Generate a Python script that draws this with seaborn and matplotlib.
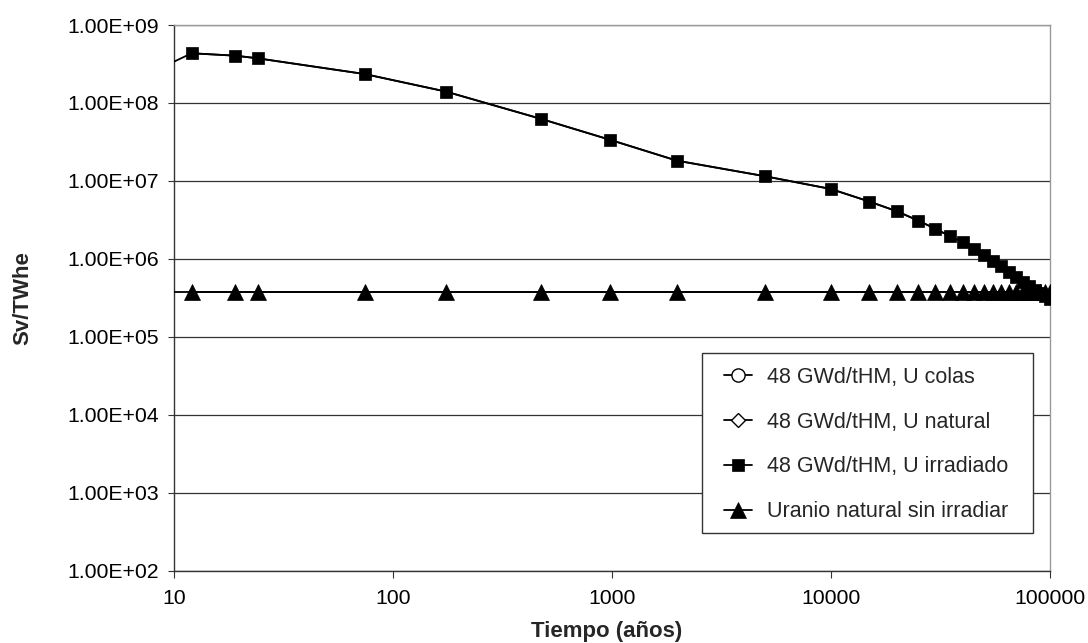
import matplotlib
matplotlib.use("Agg")
import matplotlib.pyplot as plt
import seaborn as sns
import numpy as np
import pandas as pd
from matplotlib.ticker import FixedLocator, FuncFormatter, NullLocator
from matplotlib.patches import Rectangle

# ---------------- data ----------------
tiempo = [12, 19, 24, 74, 174, 474, 974, 1974, 4974, 9974,
          14974, 19974, 24974, 29974, 34974, 39974, 44974, 49974, 54974,
          59974, 64974, 69974, 74974, 79974, 84974, 89974, 94974, 99974]
u_irradiado = [4.34e8, 4.04e8, 3.74e8, 2.35e8, 1.40e8, 6.24e7, 3.38e7, 1.82e7,
               1.15e7, 7.88e6, 5.43e6, 4.08e6, 3.10e6, 2.43e6, 1.95e6, 1.64e6,
               1.34e6, 1.12e6, 9.5e5, 8.05e5, 6.87e5, 5.9e5, 5.1e5, 4.5e5,
               4.0e5, 3.6e5, 3.3e5, 3.1e5]
u_natural_sin_irradiar = [3.74e5] * len(tiempo)
# line values at the left edge of the axis (t = 10), line only, no marker
tiempo_inicio = 10
u_irradiado_inicio = 3.4e8
u_natural_inicio = 3.74e5

series_labels = ["48 GWd/tHM, U colas", "48 GWd/tHM, U natural",
                 "48 GWd/tHM, U irradiado", "Uranio natural sin irradiar"]
x_ticks = [10, 100, 1000, 10000, 100000]
y_ticks = [1e2, 1e3, 1e4, 1e5, 1e6, 1e7, 1e8, 1e9]
x_label = "Tiempo (años)"
y_label = "Sv/TWhe"

# ---------------- style ----------------
sns.set_theme(style="white")
plt.rcParams["font.family"] = ["Liberation Sans", "DejaVu Sans"]

W, H = 1088, 643
fig = plt.figure(figsize=(W / 100, H / 100), dpi=100)
left, right, top, bottom = 174.3, 1050, 25, 570.7
ax = fig.add_axes([left / W, 1 - bottom / H, (right - left) / W, (bottom - top) / H])

df = pd.DataFrame({"t": tiempo, "irr": u_irradiado, "nat": u_natural_sin_irradiar})
df_line = pd.DataFrame({"t": [tiempo_inicio] + tiempo,
                        "irr": [u_irradiado_inicio] + u_irradiado,
                        "nat": [u_natural_inicio] + u_natural_sin_irradiar})

# empty series (legend only)
ax.plot([], [], color="black", lw=1.3, marker="o", ms=9.5, mfc="white",
        mec="black", mew=1.0, label=series_labels[0])
ax.plot([], [], color="black", lw=1.3, marker="D", ms=7.5, mfc="white",
        mec="black", mew=1.0, label=series_labels[1])

# connecting lines
sns.lineplot(data=df_line, x="t", y="nat", ax=ax, color="black", lw=1.3,
             estimator=None, legend=False, zorder=3)
sns.lineplot(data=df_line, x="t", y="irr", ax=ax, color="black", lw=1.3,
             estimator=None, legend=False, zorder=4)
# markers
sns.lineplot(data=df, x="t", y="nat", ax=ax, color="black", lw=1.3,
             marker="^", markersize=11, markeredgewidth=0.5,
             markeredgecolor="black", markerfacecolor="black",
             estimator=None, label=series_labels[3], zorder=3)
sns.lineplot(data=df, x="t", y="irr", ax=ax, color="black", lw=1.3,
             marker="s", markersize=8.5, markeredgewidth=0.5,
             markeredgecolor="black", markerfacecolor="black",
             estimator=None, label=series_labels[2], zorder=4)

ax.set_xscale("log")
ax.set_yscale("log")
ax.set_xlim(10, 100000)
ax.set_ylim(1e2, 1e9)
ax.xaxis.set_major_locator(FixedLocator(x_ticks))
ax.yaxis.set_major_locator(FixedLocator(y_ticks))
ax.xaxis.set_minor_locator(NullLocator())
ax.yaxis.set_minor_locator(NullLocator())
ax.xaxis.set_major_formatter(FuncFormatter(lambda v, p: f"{int(round(v))}"))
ax.yaxis.set_major_formatter(FuncFormatter(lambda v, p: f"{v:.2E}"))

ax.grid(True, axis="y", color="#333333", lw=0.9)
ax.grid(False, axis="x")
ax.set_axisbelow(True)

for s in ["left", "bottom"]:
    ax.spines[s].set_color("#333333")
    ax.spines[s].set_linewidth(1.0)
for s in ["top", "right"]:
    ax.spines[s].set_color("#999999")
    ax.spines[s].set_linewidth(1.0)

ax.tick_params(axis="y", which="major", direction="out", length=4.5, width=0.8,
               color="#333333", pad=6.5, labelsize=15.3, labelcolor="black", left=True)
ax.tick_params(axis="x", which="major", direction="out", length=5, width=0.8,
               color="#333333", pad=8, labelsize=15.3, labelcolor="black", bottom=True)

ax.set_xlabel("")
ax.set_ylabel("")
fig.text(607 / W, 1 - 631 / H, x_label, ha="center", va="center",
         fontsize=16, fontweight="bold")
fig.text(23 / W, 1 - 298 / H, y_label, ha="center", va="center",
         fontsize=16, fontweight="bold", rotation=90)

# legend frame (drawn separately for exact placement)
lx0, ly0, lx1, ly1 = 701.7, 352.7, 1032.7, 533.0
frame = Rectangle((lx0 / W, 1 - ly1 / H), (lx1 - lx0) / W, (ly1 - ly0) / H,
                  transform=fig.transFigure, facecolor="white",
                  edgecolor="#333333", lw=1.0, zorder=4.5, clip_on=False)
ax.add_patch(frame)

handles, labels = ax.get_legend_handles_labels()
order = [labels.index(l) for l in series_labels]
leg = ax.legend([handles[i] for i in order], [labels[i] for i in order],
                loc="upper left", bbox_to_anchor=(724 / W, 1 - 367 / H),
                bbox_transform=fig.transFigure, borderaxespad=0,
                fontsize=15.5, frameon=False,
                handlelength=1.3, handletextpad=0.7, borderpad=0,
                labelspacing=1.1)
leg.set_zorder(6)

fig.savefig("out.png", dpi=100, facecolor="white")
